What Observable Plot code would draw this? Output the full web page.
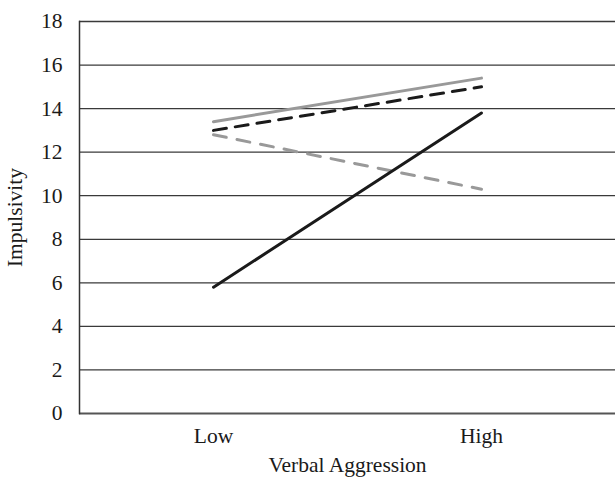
<!DOCTYPE html>
<html>
<head>
<meta charset="utf-8">
<script src="https://cdn.jsdelivr.net/npm/d3@7"></script>
<script src="https://cdn.jsdelivr.net/npm/@observablehq/plot@0.6"></script>
<style>
  html, body { margin: 0; padding: 0; background: #fff; }
  #chart svg { display: block; }
</style>
</head>
<body>
<div id="chart"></div>
<script>
const categories = ["Low", "High"];
const yTicks = [0, 2, 4, 6, 8, 10, 12, 14, 16, 18];
const graySolid = [13.4, 15.4];
const blackDashed = [13.0, 15.0];
const grayDashed = [12.8, 10.3];
const blackSolid = [5.8, 13.8];

const seriesDefs = [
  {name: "Gray solid", values: graySolid, stroke: "#999999", dash: null},
  {name: "Black dashed", values: blackDashed, stroke: "#1a1a1a", dash: "13,9"},
  {name: "Gray dashed", values: grayDashed, stroke: "#999999", dash: "13,11"},
  {name: "Black solid", values: blackSolid, stroke: "#1a1a1a", dash: null}
];

const lineMarks = seriesDefs.map(s =>
  Plot.line(categories.map((c, i) => ({cat: c, v: s.values[i]})), {
    x: "cat", y: "v", stroke: s.stroke, strokeWidth: 3,
    strokeDasharray: s.dash
  })
);

const chart = Plot.plot({
  width: 615,
  height: 477,
  marginLeft: 79,
  marginRight: 0,
  marginTop: 21,
  marginBottom: 64,
  style: {fontFamily: "Liberation Serif, serif", fontSize: "21.5px", color: "#1a1a1a", background: "#fff"},
  x: {type: "band", domain: categories, padding: 0},
  y: {domain: [0, 18]},
  marks: [
    Plot.ruleY(yTicks.filter(d => d > 0), {stroke: "#3a3a3a", strokeWidth: 1.3}),
    Plot.ruleY([0], {stroke: "#555", strokeWidth: 2.2}),
    Plot.frame({anchor: "left", stroke: "#333", strokeWidth: 1.5}),
    Plot.axisY({ticks: yTicks, tickSize: 0, tickPadding: 17, fontSize: 21.5, label: "Impulsivity", labelAnchor: "center", labelArrow: "none", labelOffset: 73}),
    Plot.axisX({tickSize: 0, tickPadding: 14, fontSize: 21.5, label: "Verbal Aggression", labelAnchor: "center", labelArrow: "none", labelOffset: 58}),
    ...lineMarks
  ]
});

document.getElementById("chart").appendChild(chart);
</script>
</body>
</html>
